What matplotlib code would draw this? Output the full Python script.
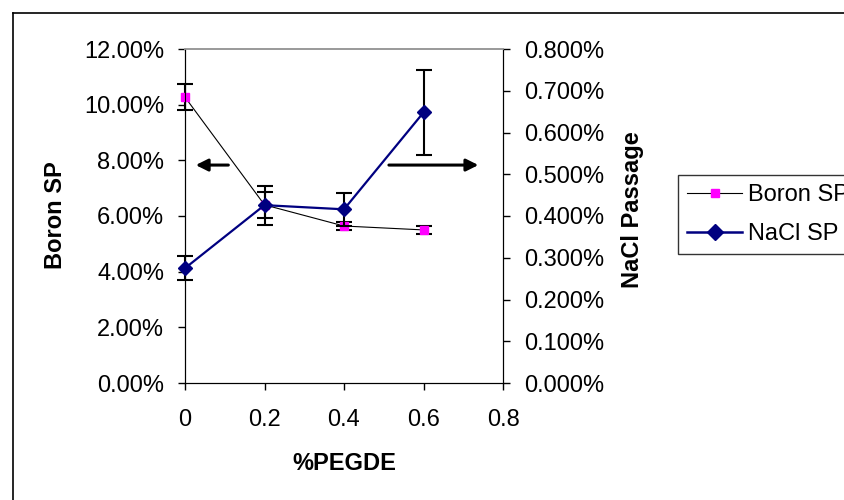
import matplotlib.pyplot as plt
from matplotlib.lines import Line2D
from matplotlib.ticker import FuncFormatter

plt.rcParams['font.family'] = ['Liberation Sans', 'DejaVu Sans']

# data
pegde = [0, 0.2, 0.4, 0.6]
boron_sp = [10.27, 6.40, 5.64, 5.50]        # %
boron_err = [0.46, 0.47, 0.15, 0.15]
nacl_sp = [0.275, 0.426, 0.416, 0.648]      # %
nacl_err = [0.028, 0.047, 0.039, 0.101]

W, H = 844, 500
fig = plt.figure(figsize=(W / 100, H / 100), dpi=100)
# outer chart frame (only left and top edges fall inside the picture)
fig.add_artist(Line2D([13 / W, 13 / W], [0, 1 - 13 / H], transform=fig.transFigure, color='black', lw=1.2))
fig.add_artist(Line2D([13 / W, 1], [1 - 13 / H, 1 - 13 / H], transform=fig.transFigure, color='black', lw=1.2))

ax = fig.add_axes([185 / W, 1 - 383 / H, (503 - 185) / W, (383 - 49) / H])
ax2 = ax.twinx()

# boron on left axis
ax.errorbar(pegde, boron_sp, yerr=boron_err, color='black', linewidth=0.8,
            ecolor='black', elinewidth=1.5, capsize=6, capthick=1.5,
            marker='s', markersize=5.5, markerfacecolor='magenta', markeredgecolor='magenta',
            zorder=3, clip_on=False)

# NaCl on right axis
ax2.errorbar(pegde, nacl_sp, yerr=nacl_err, color='#000080', linewidth=1.6,
             ecolor='black', elinewidth=1.5, capsize=6, capthick=1.5,
             marker='D', markersize=7.5, markerfacecolor='#000080', markeredgecolor='#000080',
             zorder=3, clip_on=False)

ax.set_xlim(0, 0.8)
ax.set_ylim(0, 12)
ax2.set_ylim(0, 0.8)
ax.set_xticks([0, 0.2, 0.4, 0.6, 0.8])
ax.set_xticklabels(['0', '0.2', '0.4', '0.6', '0.8'])
ax.set_yticks(range(0, 13, 2))
ax2.set_yticks([i / 10 for i in range(9)])
ax.yaxis.set_major_formatter(FuncFormatter(lambda v, p: f'{v:.2f}%'))
ax2.yaxis.set_major_formatter(FuncFormatter(lambda v, p: f'{v:.3f}%'))

for a in (ax, ax2):
    a.tick_params(labelsize=17, length=5, width=1, direction='out', pad=10)
    a.spines['top'].set_color('#999999')
    a.spines['top'].set_linewidth(1.2)
ax.tick_params(axis='x', pad=14)

# axis titles placed at their reference spots
fig.text(344 / W, 1 - 463 / H, '%PEGDE', fontsize=17, fontweight='bold', ha='center', va='center')
fig.text(55 / W, 1 - 215 / H, 'Boron SP', fontsize=17, fontweight='bold', rotation=90,
         ha='center', va='center')
fig.text(633 / W, 1 - 210 / H, 'NaCl Passage', fontsize=17, fontweight='bold', rotation=90,
         ha='center', va='center')

# arrows pointing to the matching axes
ax.annotate('', xy=(0.02, 7.83), xytext=(0.116, 7.83),
            arrowprops=dict(arrowstyle='-|>', color='black', lw=2.2, mutation_scale=18))
ax.annotate('', xy=(0.745, 7.83), xytext=(0.506, 7.83),
            arrowprops=dict(arrowstyle='-|>', color='black', lw=2.2, mutation_scale=18))

handles = [
    Line2D([], [], color='black', lw=0.8, marker='s', markersize=6,
           markerfacecolor='magenta', markeredgecolor='magenta'),
    Line2D([], [], color='#000080', lw=1.8, marker='D', markersize=8,
           markerfacecolor='#000080', markeredgecolor='#000080'),
]
leg = fig.legend(handles, ['Boron SP', 'NaCl SP'], loc='upper left',
                 bbox_to_anchor=(678 / W, 1 - 175 / H), borderaxespad=0,
                 fontsize=17, frameon=True, fancybox=False, edgecolor='black',
                 handlelength=2.3, handletextpad=0.25, borderpad=0.4, labelspacing=0.7)
leg.get_frame().set_linewidth(1)

fig.savefig('out.png', dpi=100)
